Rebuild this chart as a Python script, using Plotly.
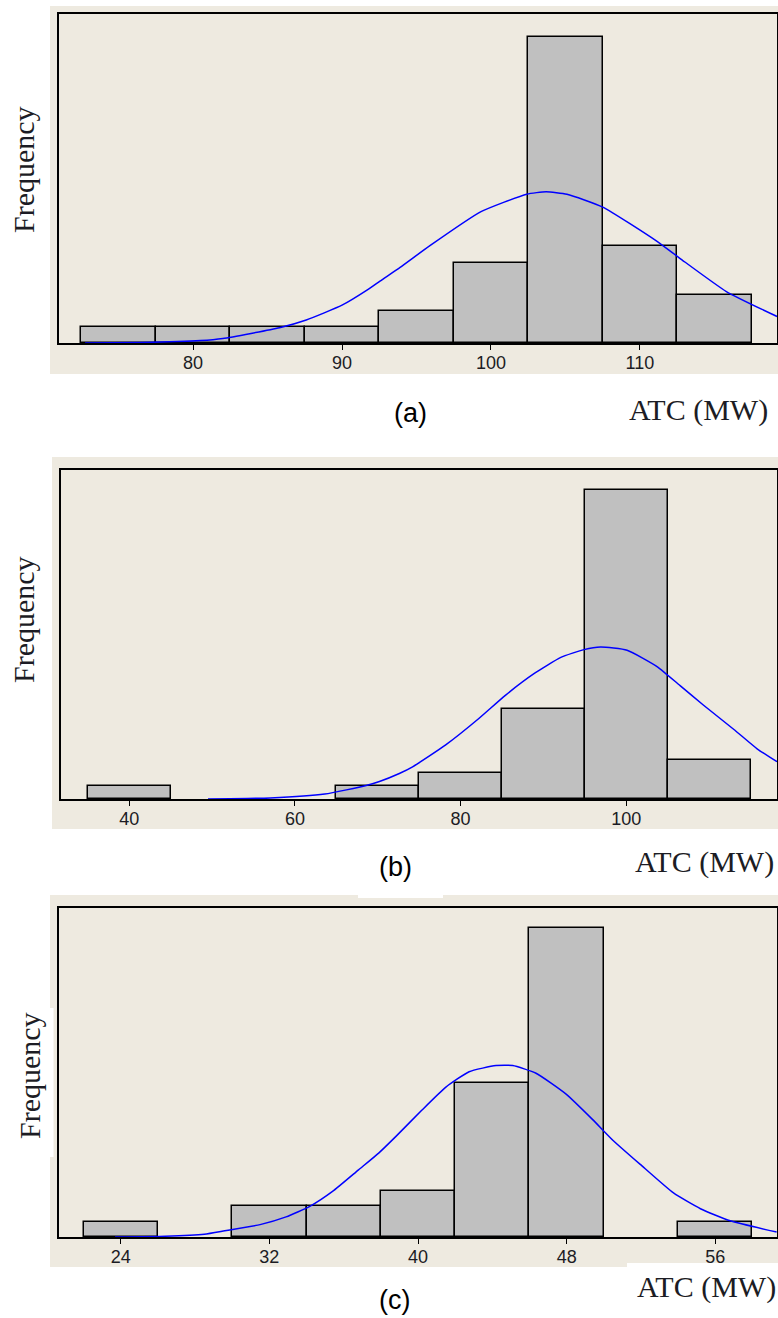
import plotly.graph_objects as go

W, H = 778, 1318

# ---------------- data ----------------
a_centers = [75, 80, 85, 90, 95, 100, 105, 110, 115]
a_counts = [1, 1, 1, 1, 2, 5, 19, 6, 3]
a_curve_x = [72.75, 76.5, 80.5, 82.0, 85.8, 87.6, 90.0, 91.7, 92.55, 93.9, 95.9,
             99.3, 102.4, 103.7, 105.1, 107.5, 111.1, 112.7, 115.8, 119.2]
a_curve_y = [0.0, 0.03, 0.15, 0.28, 0.95, 1.43, 2.35, 3.3, 3.85, 4.7, 6.05,
             8.15, 9.25, 9.4, 9.25, 8.45, 6.35, 5.25, 3.2, 1.65]
a_ticks = [80, 90, 100, 110]

b_centers = [40, 70, 80, 90, 100, 110]
b_counts = [1, 1, 2, 7, 24, 3]
b_curve_x = [49.5, 57.0, 63.6, 68.6, 70.2, 72.6, 74.2, 78.2, 82.2, 85.4, 88.9,
             92.1, 94.9, 96.9, 100.1, 103.8, 106.5, 109.3, 113.0, 115.8, 118.2]
b_curve_y = [0.0, 0.08, 0.38, 1.05, 1.36, 1.98, 2.5, 4.2, 6.25, 8.05, 9.75,
             11.0, 11.6, 11.8, 11.55, 10.25, 8.8, 7.3, 5.4, 3.9, 2.9]
b_ticks = [40, 60, 80, 100]

c_centers = [24, 32, 36, 40, 44, 48, 56]
c_counts = [1, 2, 2, 3, 10, 20, 1]
c_curve_x = [23.7, 26.4, 28.5, 29.6, 31.5, 32.9, 34.2, 35.4, 36.8, 37.9, 38.8,
             40.2, 41.5, 42.75, 44.2, 45.1, 46.35, 47.97, 49.4, 50.5, 51.96,
             53.75, 55.2, 56.8, 59.3]
c_curve_y = [0.0, 0.05, 0.18, 0.4, 0.8, 1.3, 2.0, 2.95, 4.35, 5.45, 6.5,
             8.2, 9.7, 10.7, 11.1, 11.1, 10.6, 9.25, 7.6, 6.25, 4.7,
             2.85, 1.83, 1.05, 0.32]
c_ticks = [24, 32, 40, 48, 56]

panel_labels = ["(a)", "(b)", "(c)"]
x_title = "ATC (MW)"
y_title = "Frequency"

# ---------------- layout helpers ----------------
def px(x):
    return x / W

def py(y):
    return 1 - y / H

panels = [
    dict(centers=a_centers, counts=a_counts, cx=a_curve_x, cy=a_curve_y, ticks=a_ticks,
         bw=5, xr=[71.0, 119.2], yr=[0, 20.45],
         dom=(59, 777, 14, 343), bg=(50, 778, 6, 374),
         freq=(24, 170), lab=(411, 413), atc=(627, 410)),
    dict(centers=b_centers, counts=b_counts, cx=b_curve_x, cy=b_curve_y, ticks=b_ticks,
         bw=10, xr=[31.75, 118.2], yr=[0, 25.55],
         dom=(61, 777, 470, 799), bg=(52, 778, 457, 829),
         freq=(24, 620), lab=(395, 867), atc=(633, 862)),
    dict(centers=c_centers, counts=c_counts, cx=c_curve_x, cy=c_curve_y, ticks=c_ticks,
         bw=4, xr=[20.68, 59.32], yr=[0, 21.3],
         dom=(59, 777, 908, 1237), bg=(50, 778, 895, 1267),
         freq=(29, 1076), lab=(394, 1300), atc=(635, 1287)),
]

fig = go.Figure()
shapes = []
annotations = []
BEIGE = "#EEEAE0"
TXT = "#1c1c24"

for i, p in enumerate(panels):
    n = "" if i == 0 else str(i + 1)
    xa, ya = "x" + n, "y" + n
    fig.add_trace(go.Bar(
        x=p["centers"], y=p["counts"], width=p["bw"],
        marker=dict(color="#C0C0C0", line=dict(color="#000000", width=1.5)),
        xaxis=xa, yaxis=ya, showlegend=False, hoverinfo="skip"))
    fig.add_trace(go.Scatter(
        x=p["cx"], y=p["cy"], mode="lines",
        line=dict(color="#0000FF", width=1.5, shape="spline", smoothing=0.5),
        xaxis=xa, yaxis=ya, showlegend=False, hoverinfo="skip", cliponaxis=True))
    x0, x1, y0, y1 = p["dom"]
    fig.layout["xaxis" + n] = dict(
        domain=[px(x0), px(x1)], range=p["xr"], anchor=ya,
        tickmode="array", tickvals=p["ticks"], ticktext=[str(t) for t in p["ticks"]],
        ticks="outside", ticklen=5, tickwidth=1, tickcolor="#000",
        ticklabelstandoff=-3,
        tickfont=dict(family="Liberation Sans", size=18, color=TXT),
        showline=True, mirror=True, linecolor="#000", linewidth=2,
        showgrid=False, zeroline=False, fixedrange=True)
    fig.layout["yaxis" + n] = dict(
        domain=[py(y1), py(y0)], range=p["yr"], anchor=xa,
        showticklabels=False, ticks="",
        showline=True, mirror=True, linecolor="#000", linewidth=2,
        showgrid=False, zeroline=False, fixedrange=True)
    bx0, bx1, by0, by1 = p["bg"]
    shapes.append(dict(type="rect", xref="paper", yref="paper",
                       x0=px(bx0), x1=px(bx1), y0=py(by1), y1=py(by0),
                       fillcolor=BEIGE, line=dict(width=0), layer="below"))
    fx, fy = p["freq"]
    annotations.append(dict(text=y_title, x=px(fx), y=py(fy), xref="paper", yref="paper",
                            showarrow=False, textangle=-90, xanchor="center", yanchor="middle",
                            font=dict(family="Liberation Serif", size=30, color=TXT)))
    lx, ly = p["lab"]
    annotations.append(dict(text=panel_labels[i], x=px(lx), y=py(ly), xref="paper", yref="paper",
                            showarrow=False, xanchor="center", yanchor="middle",
                            font=dict(family="Liberation Sans", size=27, color="#000")))
    ax, ay = p["atc"]
    annotations.append(dict(text=x_title, x=px(ax), y=py(ay), xref="paper", yref="paper",
                            showarrow=False, xanchor="left", yanchor="middle",
                            font=dict(family="Liberation Serif", size=30, color=TXT)))

# small white notches seen in the reference frames
for (wx0, wx1, wy0, wy1) in [(358, 443, 890, 898), (49, 53.5, 1008, 1157), (627, 778, 1263, 1268)]:
    shapes.append(dict(type="rect", xref="paper", yref="paper",
                       x0=px(wx0), x1=px(wx1), y0=py(wy1), y1=py(wy0),
                       fillcolor="#FFFFFF", line=dict(width=0), layer="below"))

fig.update_layout(
    width=W, height=H, margin=dict(l=0, r=0, t=0, b=0),
    paper_bgcolor="#FFFFFF", plot_bgcolor="#FFFFFF",
    shapes=shapes, annotations=annotations, bargap=0, showlegend=False)

fig.write_html("out.html", config={"displayModeBar": False},
               post_script="document.body.style.margin='0px';document.body.style.overflow='hidden';")
